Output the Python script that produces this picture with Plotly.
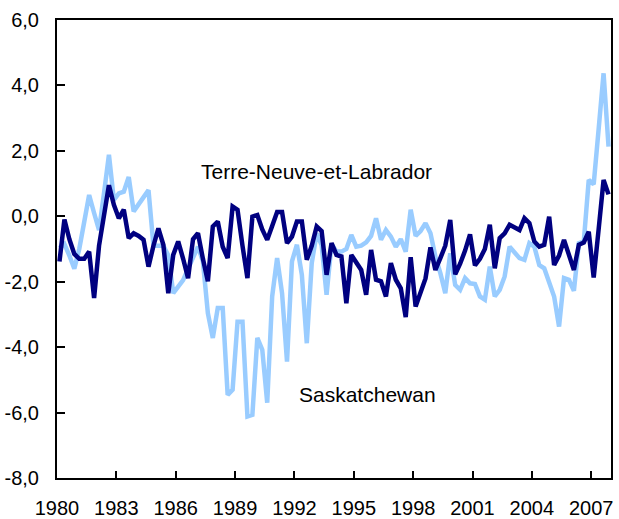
import plotly.graph_objects as go

# Quarterly data, 1980 Q1 to 2007 Q4
start_year = 1980
n_quarters = 112

terre_neuve = [
    -1.38, -0.10, -0.70, -1.15, -1.30, -1.30, -1.08, -2.50,
    -0.90, 0.10, 0.95, 0.35, -0.06, 0.20, -0.67, -0.52,
    -0.60, -0.72, -1.54, -0.90, -0.37, -0.87, -2.35, -1.18,
    -0.77, -1.30, -1.89, -0.70, -0.52, -1.30, -1.99, -0.31,
    -0.16, -0.93, -1.28, 0.30, 0.20, -0.90, -1.89, -0.01,
    0.04, -0.40, -0.72, -0.30, 0.13, 0.13, -0.82, -0.62,
    -0.16, -0.16, -1.33, -0.90, -0.31, -0.45, -1.79, -0.82,
    -1.18, -1.23, -2.66, -1.18, -1.43, -1.64, -2.40, -1.03,
    -1.94, -1.99, -2.45, -1.43, -1.94, -2.20, -3.08, -1.25,
    -2.76, -2.35, -1.90, -0.95, -1.64, -1.28, -0.90, -0.11,
    -1.77, -1.45, -1.05, -0.55, -1.50, -1.30, -1.00, -0.26,
    -1.59, -0.67, -0.52, -0.26, -0.35, -0.42, -0.06, -0.21,
    -0.77, -0.93, -0.87, -0.01, -1.49, -1.20, -0.72, -1.20,
    -1.64, -0.87, -0.80, -0.47, -1.87, -0.40, 1.11, 0.67,
]

saskatchewan = [
    -0.97, -0.85, -1.20, -1.60, -1.00, -0.10, 0.65, 0.10,
    -0.42, 0.70, 1.88, 0.50, 0.70, 0.75, 1.20, 0.15,
    0.35, 0.60, 0.80, -0.90, -0.90, -0.90, -1.20, -2.35,
    -2.15, -1.95, -1.60, -1.25, -0.93, -1.38, -2.96, -3.72,
    -2.80, -2.80, -5.46, -5.30, -3.22, -3.22, -6.12, -6.07,
    -3.72, -4.08, -5.70, -2.45, -1.28, -2.35, -4.44, -1.38,
    -0.87, -1.79, -3.88, -1.43, -0.52, -0.88, -2.40, -0.85,
    -1.08, -1.08, -1.00, -0.57, -0.93, -0.90, -0.80, -0.60,
    -0.06, -0.72, -0.42, -0.62, -0.93, -0.70, -1.08, 0.20,
    -0.60, -0.45, -0.21, -0.52, -1.23, -1.74, -2.35, -1.13,
    -2.10, -2.25, -1.89, -2.05, -2.07, -2.45, -2.55, -1.54,
    -2.45, -2.25, -1.84, -0.93, -1.13, -1.28, -1.33, -0.82,
    -0.93, -1.49, -1.59, -2.05, -2.45, -3.37, -1.89, -1.94,
    -2.28, -0.82, -0.77, 1.11, 0.98, 2.66, 4.37, 2.13,
]

x_tick_years = [1980, 1983, 1986, 1989, 1992, 1995, 1998, 2001, 2004, 2007]
x_tick_labels = [str(y) for y in x_tick_years]
y_tick_vals = [6, 4, 2, 0, -2, -4, -6, -8]
y_tick_labels = ["6,0", "4,0", "2,0", "0,0", "-2,0", "-4,0", "-6,0", "-8,0"]

# quarter positions (centre of each quarter)
x = [start_year + (i + 0.5) / 4 for i in range(n_quarters)]

FONT = "Liberation Sans, Arial, sans-serif"

fig = go.Figure()
fig.add_trace(go.Scatter(x=x, y=saskatchewan, mode="lines", name="Saskatchewan",
                         line=dict(color="#99CCFF", width=4.5)))
fig.add_trace(go.Scatter(x=x, y=terre_neuve, mode="lines", name="Terre-Neuve-et-Labrador",
                         line=dict(color="#000080", width=4.5)))

fig.add_annotation(x=1993.09, y=1.36, text="Terre-Neuve-et-Labrador", showarrow=False,
                   font=dict(family=FONT, size=21, color="black"))
fig.add_annotation(x=1995.67, y=-5.45, text="Saskatchewan", showarrow=False,
                   font=dict(family=FONT, size=21, color="black"))

fig.update_layout(
    width=619, height=519,
    margin=dict(l=57, r=8, t=20, b=41, autoexpand=False),
    paper_bgcolor="white", plot_bgcolor="white",
    showlegend=False,
    font=dict(family=FONT, size=20, color="black"),
)
fig.update_xaxes(
    range=[1980, 2008], tickmode="array", tickvals=x_tick_years, ticktext=x_tick_labels,
    ticks="inside", ticklen=7, tickwidth=2, tickcolor="black",
    showline=True, linewidth=2, linecolor="black", mirror=True,
    showgrid=False, zeroline=False, ticklabelstandoff=11, automargin=False,
)
fig.update_yaxes(
    range=[-8, 6], tickmode="array", tickvals=y_tick_vals, ticktext=y_tick_labels,
    ticks="inside", ticklen=8, tickwidth=2, tickcolor="black",
    showline=True, linewidth=2, linecolor="black", mirror=True,
    showgrid=False, zeroline=False, ticklabelstandoff=12, automargin=False,
)

fig.write_html(
    "out.html",
    config={"displayModeBar": False},
    post_script="document.body.style.margin='0';document.body.style.overflow='hidden';",
)
